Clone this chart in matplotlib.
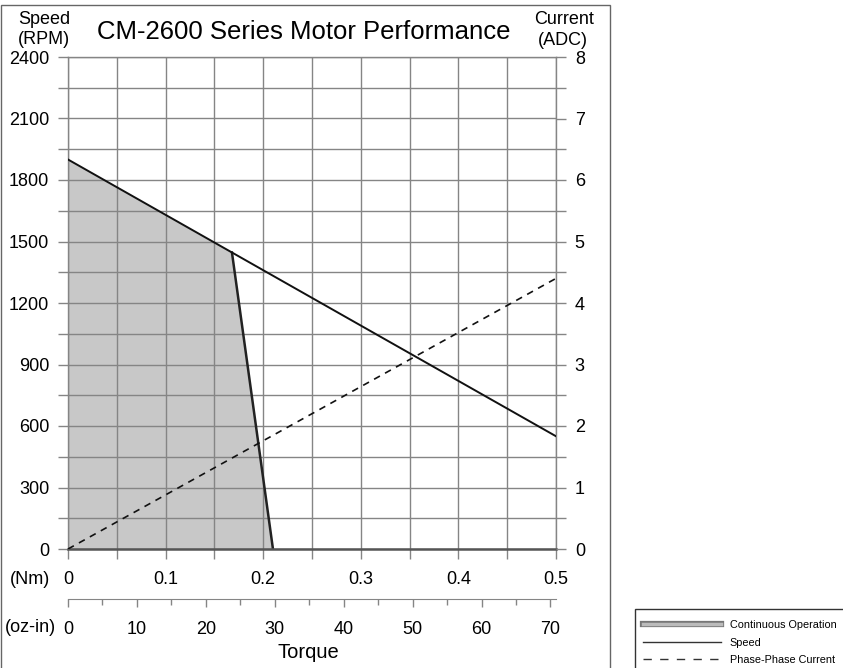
import numpy as np
import matplotlib.pyplot as plt
from matplotlib.lines import Line2D
from matplotlib.patches import Rectangle
import matplotlib.patheffects as pe

plt.rcParams['font.family'] = ['Liberation Sans', 'DejaVu Sans']

## values
torque_nm = [0, 0.5]
speed_rpm = [1900, 550]
current_adc = [0, 4.4]
# continuous operation area (torque Nm, speed RPM)
cont_torque = [0, 0, 0.168, 0.21]
cont_speed = [0, 1900, 1446, 0]

speed_ticks = np.arange(0, 2401, 300)
current_ticks = np.arange(0, 9, 1)
nm_ticks = [0, 0.1, 0.2, 0.3, 0.4, 0.5]
oz_ticks = [0, 10, 20, 30, 40, 50, 60, 70]

NM_TO_OZIN = 141.61193

W, H = 843, 668
fig = plt.figure(figsize=(W / 100, H / 100), dpi=100)
ax = fig.add_axes([68 / W, 1 - 549 / H, (556 - 68) / W, (549 - 57) / H])

gridc = '#858585'

# shaded continuous region
ax.fill(cont_torque, cont_speed, color='#c8c8c8', lw=0, zorder=1)
ax.plot(cont_torque[2:], cont_speed[2:], color='#222222', lw=1.8, zorder=4)
ax.plot(torque_nm, speed_rpm, color='#111111', lw=1.4, zorder=4)

ax.set_xlim(0, 0.5)
ax.set_ylim(0, 2400)
ax.set_xticks(nm_ticks)
ax.set_xticks(np.arange(0, 0.51, 0.05), minor=True)
ax.set_xticklabels(['0', '0.1', '0.2', '0.3', '0.4', '0.5'])
ax.set_yticks(speed_ticks)
ax.set_yticks(np.arange(0, 2401, 150), minor=True)
ax.set_axisbelow(False)
ax.grid(True, which='both', color=gridc, lw=1, zorder=2)
ax.tick_params(which='both', direction='out', length=7, width=1, color=gridc,
               labelsize=13)
ax.tick_params(axis='x', pad=9)
ax.tick_params(axis='y', pad=6.5)
for s in ['left', 'right', 'top']:
    ax.spines[s].set_color(gridc)
    ax.spines[s].set_linewidth(1)
ax.spines['bottom'].set_color('#555555')
ax.spines['bottom'].set_linewidth(1.8)
ax.spines['bottom'].set_zorder(5)

# current axis on the right
ax2 = ax.twinx()
ax2.plot(torque_nm, current_adc, color='#111111', lw=1.2, ls=(0, (4, 3.5)), zorder=4)
ax2.set_ylim(0, 8)
ax2.set_yticks(current_ticks)
ax2.set_yticks(np.arange(0, 8.01, 0.5), minor=True)
ax2.tick_params(which='both', direction='out', length=7, width=1, color=gridc,
                labelsize=13, pad=6.5)
for s in ax2.spines.values():
    s.set_visible(False)

# oz-in scale below
sec = ax.secondary_xaxis(-0.1016, functions=(lambda x: x * NM_TO_OZIN,
                                             lambda x: x / NM_TO_OZIN))
sec.set_xticks(oz_ticks)
sec.set_xticks(np.arange(0, 71, 5), minor=True)
sec.tick_params(which='major', direction='out', length=6, width=1, color=gridc,
                labelsize=13, pad=10)
sec.tick_params(which='minor', direction='out', length=4, width=1, color=gridc)
sec.spines['bottom'].set_color(gridc)

# texts
fig.text(304 / W, 1 - 39 / H, 'CM-2600 Series Motor Performance', ha='center',
         va='baseline', fontsize=18.5)
fig.text(44 / W, 1 - 24 / H, 'Speed', ha='center', va='baseline', fontsize=13)
fig.text(44 / W, 1 - 44 / H, '(RPM)', ha='center', va='baseline', fontsize=13)
fig.text(564 / W, 1 - 24 / H, 'Current', ha='center', va='baseline', fontsize=13)
fig.text(563 / W, 1 - 45 / H, '(ADC)', ha='center', va='baseline', fontsize=13)
fig.text(30 / W, 1 - 580 / H, '(Nm)', ha='center', va='center', fontsize=13)
fig.text(30 / W, 1 - 628 / H, '(oz-in)', ha='center', va='center', fontsize=13)
fig.text(308 / W, 1 - 653 / H, 'Torque', ha='center', va='center', fontsize=14.5)

# outer frame and legend box
fig.patches.append(Rectangle((1 / W, -0.05), 609 / W, 1.05 - 5 / H,
                             transform=fig.transFigure, fill=False,
                             ec='#666666', lw=1))
fig.patches.append(Rectangle((635 / W, -0.05), 0.5, 0.05 + 59 / H,
                             transform=fig.transFigure, fill=False,
                             ec='#333333', lw=1))

handles = [
    Line2D([], [], color='#bbbbbb', lw=2.5,
           path_effects=[pe.Stroke(linewidth=4.5, foreground='#777777'), pe.Normal()]),
    Line2D([], [], color='#333333', lw=1),
    Line2D([], [], color='#333333', lw=1, ls=(0, (6, 6))),
]
fig.legend(handles, ['Continuous Operation', 'Speed', 'Phase-Phase Current'],
           loc='upper left', bbox_to_anchor=(643 / W, 1 - 620 / H),
           frameon=False, fontsize=7.8, handlelength=7.2, handletextpad=0.8,
           labelspacing=0.7, borderpad=0, borderaxespad=0)

fig.savefig('out.png', dpi=100)
